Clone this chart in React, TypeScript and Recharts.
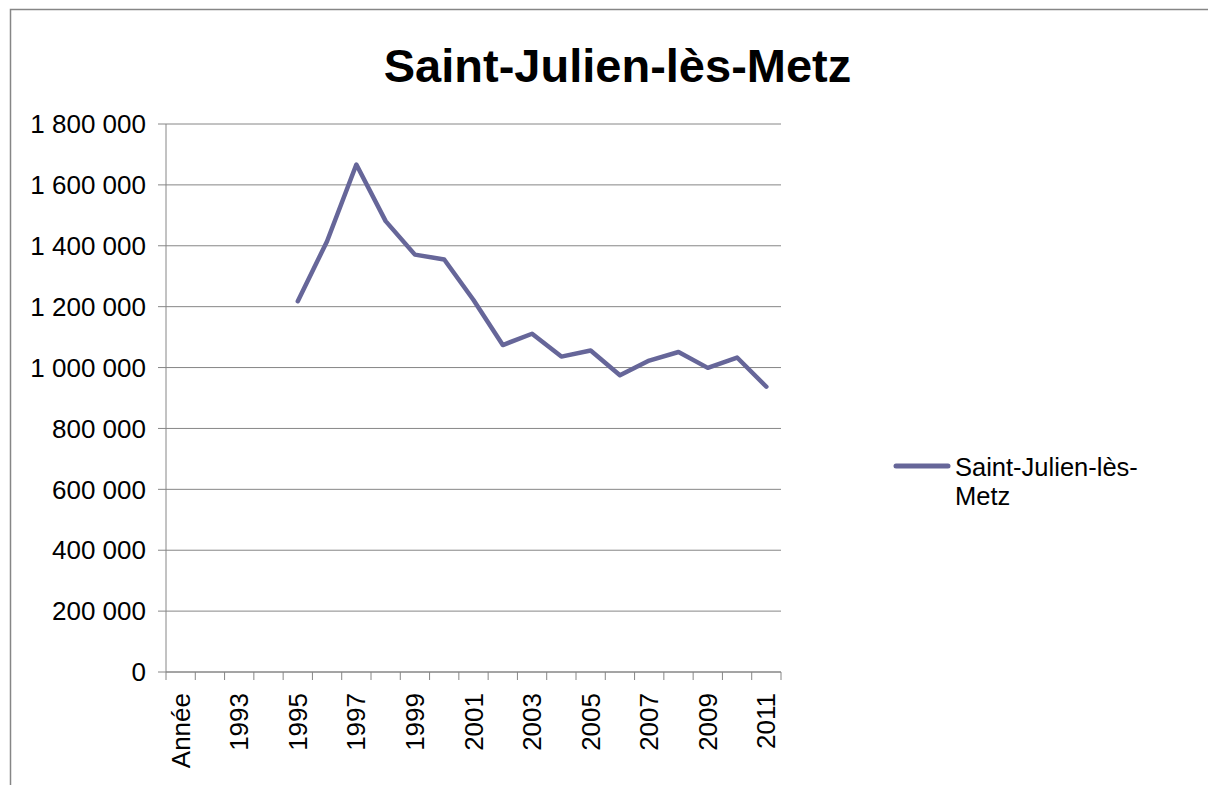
import React from 'react';
import {
    LineChart,
    Line,
    XAxis,
    YAxis,
    CartesianGrid,
    Legend
} from 'recharts';

const years = [
    'Année', '1992', '1993', '1994', '1995', '1996', '1997', '1998', '1999', '2000',
    '2001', '2002', '2003', '2004', '2005', '2006', '2007', '2008', '2009', '2010', '2011'
];

const values: (number | null)[] = [
    null, null, null, null,
    1218000, 1415000, 1667000, 1481000, 1371000, 1355000,
    1222000, 1074000, 1111000, 1036000, 1056000, 975000,
    1023000, 1051000, 999000, 1033000, 937000
];

const yTicks = [0, 200000, 400000, 600000, 800000, 1000000, 1200000, 1400000, 1600000, 1800000];

const seriesName = 'Saint-Julien-lès-Metz';
const title = 'Saint-Julien-lès-Metz';

const data = years.map((y, i) => ({ year: y, value: values[i] }));

const FONT = '"Liberation Sans", Arial, sans-serif';
const GRAY = '#868686';
const LINE = '#666699';
const PLOT_LEFT = 166;
const PLOT_RIGHT = 781;
const BAND = (PLOT_RIGHT - PLOT_LEFT) / years.length;

const fmt = (v: number) => v.toString().replace(/\B(?=(\d{3})+(?!\d))/g, ' ');

const XTick = (props: any) => {
    const { x, y, payload, index } = props;
    const last = index === years.length - 1;
    return (
        <g>
            <line x1={x - BAND / 2} x2={x - BAND / 2} y1={y} y2={y + 8} stroke={GRAY} />
            {last && <line x1={x + BAND / 2} x2={x + BAND / 2} y1={y} y2={y + 8} stroke={GRAY} />}
            {index % 2 === 0 && (
                <text
                    x={x}
                    y={y + 21}
                    dy="0.35em"
                    textAnchor="end"
                    transform={`rotate(-90, ${x}, ${y + 21})`}
                    fontSize={26}
                    fontFamily={FONT}
                    fill="#000"
                >
                    {payload.value}
                </text>
            )}
        </g>
    );
};

const LegendBox = () => (
    <div style={{ position: 'relative', width: 300, height: 60, fontFamily: FONT }}>
        <svg width={60} height={10} style={{ position: 'absolute', left: 0, top: 8 }}>
            <line x1={3} x2={55} y1={5} y2={5} stroke={LINE} strokeWidth={5} strokeLinecap="round" />
        </svg>
        <div style={{ position: 'absolute', left: 62, top: 0, width: 200, fontSize: 25.5, lineHeight: '29px', color: '#000' }}>
            {seriesName}
        </div>
    </div>
);

export default function App() {
    return (
        <div style={{ position: 'absolute', left: 0, top: 0, width: 1208, height: 785, overflow: 'hidden', background: '#fff', fontFamily: FONT }}>
            <LineChart width={1208} height={785} data={data} margin={{ top: 124, right: 427, bottom: 0, left: 10 }}>
                <CartesianGrid vertical={false} stroke={GRAY} strokeWidth={1} />
                <XAxis
                    dataKey="year"
                    scale="band"
                    interval={0}
                    height={113}
                    tickSize={0}
                    tickMargin={0}
                    tickLine={false}
                    axisLine={{ stroke: GRAY }}
                    tick={<XTick />}
                />
                <YAxis
                    width={156}
                    domain={[0, 1800000]}
                    ticks={yTicks}
                    tickFormatter={fmt}
                    tickSize={8}
                    tickMargin={12}
                    axisLine={{ stroke: GRAY }}
                    tickLine={{ stroke: GRAY }}
                    tick={{ fill: '#000', fontSize: 26, fontFamily: FONT }}
                />
                <Legend
                    layout="horizontal"
                    align="center"
                    verticalAlign="middle"
                    content={<LegendBox />}
                    wrapperStyle={{ left: 893, top: 453, width: 300 }}
                />
                <Line
                    name={seriesName}
                    dataKey="value"
                    stroke={LINE}
                    strokeWidth={4.5}
                    strokeLinecap="round"
                    strokeLinejoin="round"
                    dot={false}
                    activeDot={false}
                    isAnimationActive={false}
                />
            </LineChart>
            <svg width={1208} height={785} style={{ position: 'absolute', left: 0, top: 0, pointerEvents: 'none' }}>
                <rect x={10.5} y={9.5} width={1300} height={900} fill="none" stroke={GRAY} strokeWidth={1.5} />
                <text x={617.5} y={82} textAnchor="middle" fontSize={47} fontWeight="bold" fontFamily={FONT} fill="#000">
                    {title}
                </text>
            </svg>
        </div>
    );
}
